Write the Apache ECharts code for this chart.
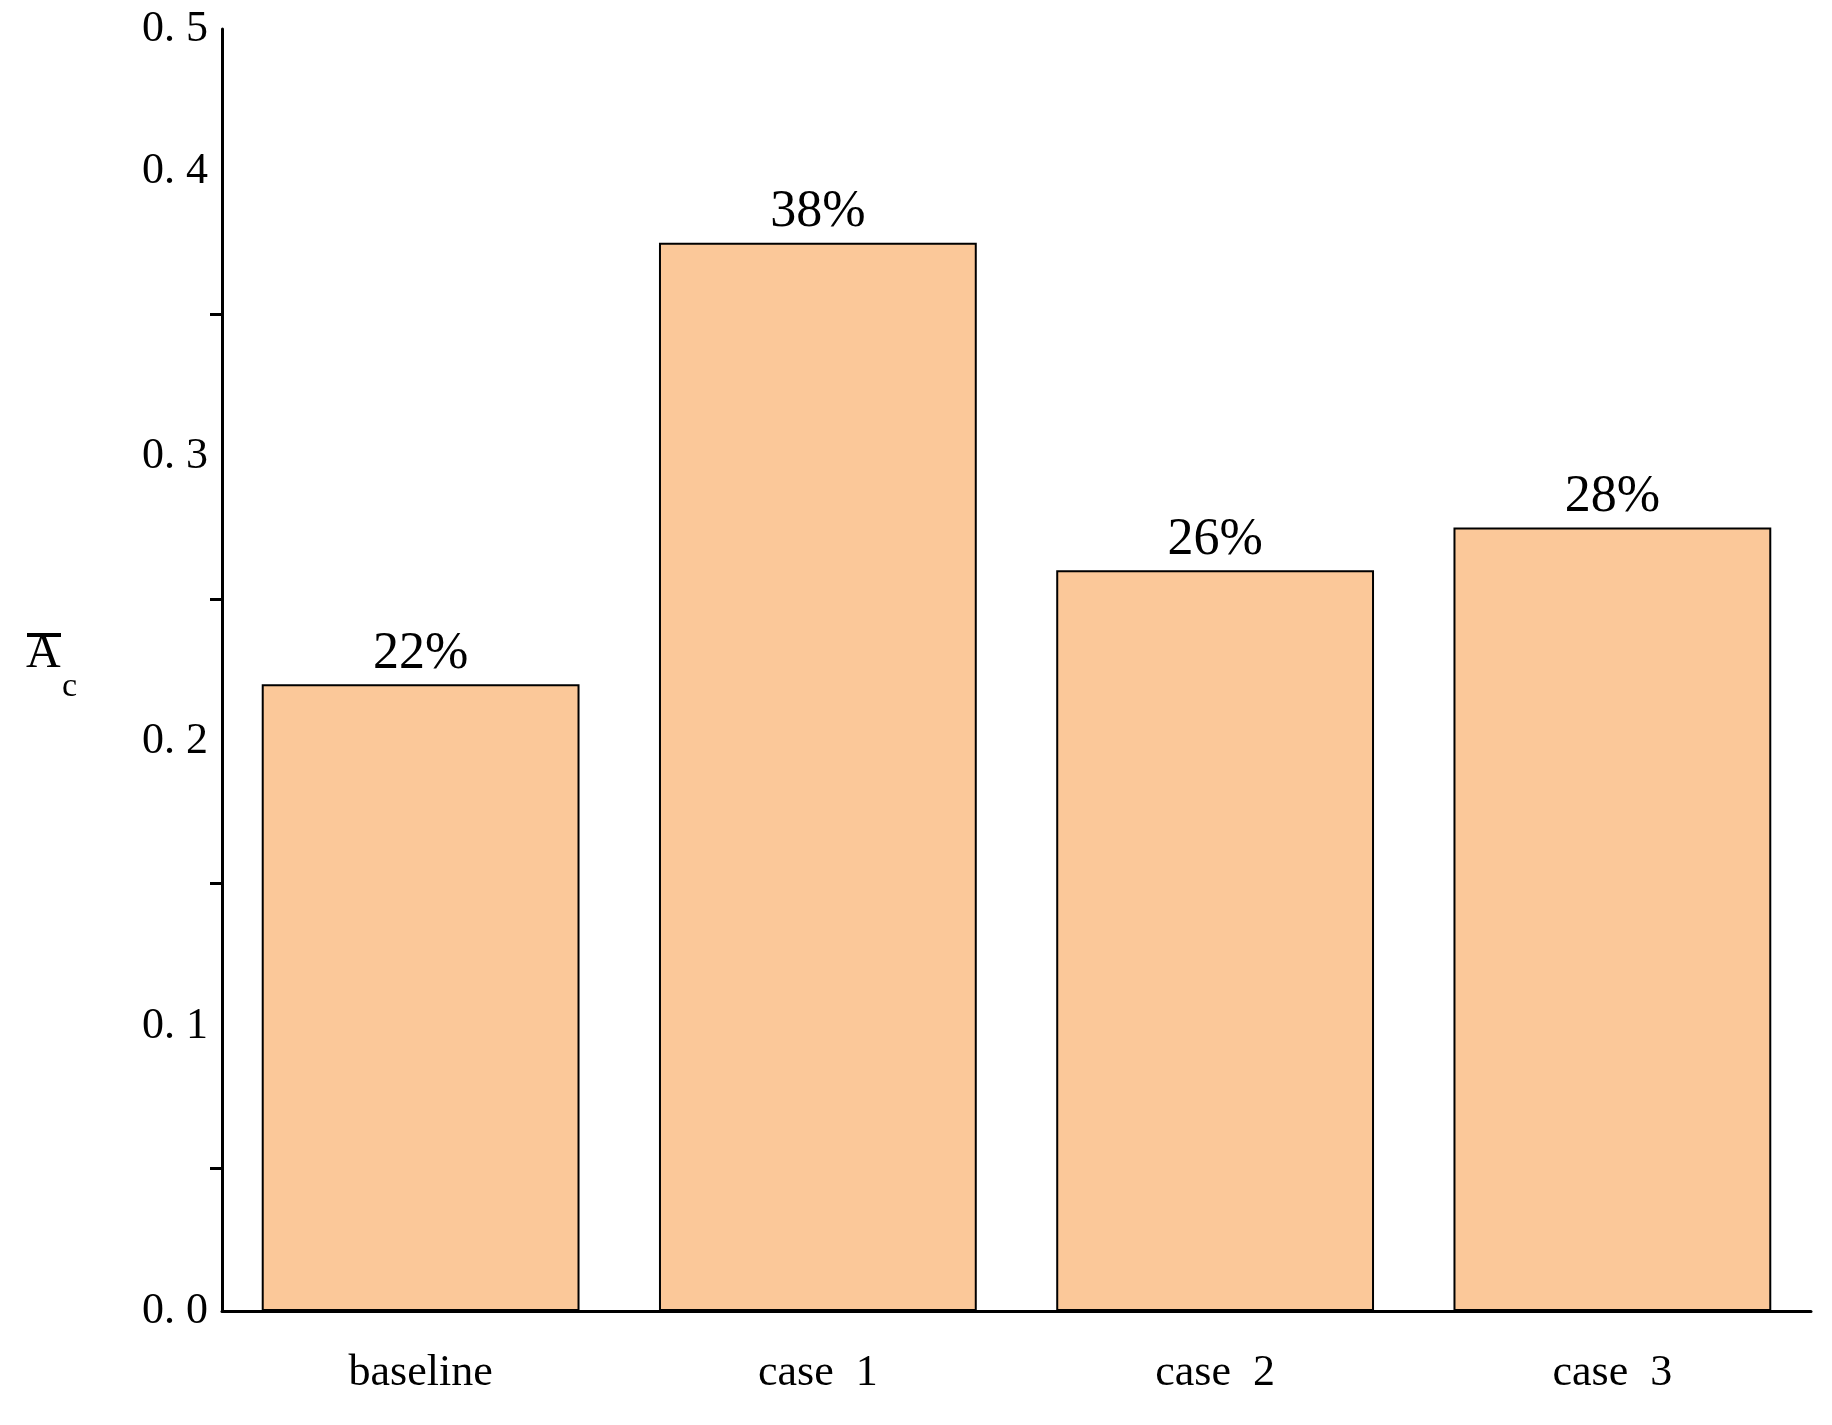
<!DOCTYPE html>
<html><head><meta charset="utf-8">
<script src="https://cdn.jsdelivr.net/npm/echarts@6/dist/echarts.min.js"></script>
<style>html,body{margin:0;background:#fff}#c{width:1832px;height:1425px}</style>
</head><body><div id="c"></div>
<script>
var categories = ['baseline', 'case 1', 'case 2', 'case 3'];
var values = [0.22, 0.375, 0.26, 0.275];
var pctLabels = ['22%', '38%', '26%', '28%'];
var font = '"Liberation Serif", "DejaVu Serif", serif';

var chart = echarts.init(document.getElementById('c'));
chart.setOption({
    animation: false,
    grid: {left: 222, right: 21, top: 29, bottom: 114},
    xAxis: [
        {type: 'category', data: categories,
         axisLine: {lineStyle: {color: '#000', width: 3}},
         axisTick: {length: 12, lineStyle: {color: '#000', width: 3}},
         axisLabel: {color: '#000', fontFamily: font, fontSize: 44, margin: 40,
                     formatter: v => v.replace(' ', '  ')}},
        {type: 'category', data: categories, position: 'bottom',
         axisLine: {show: false},
         axisTick: {alignWithLabel: true, length: 24, lineStyle: {color: '#000', width: 3}},
         axisLabel: {show: false}}
    ],
    yAxis: {
        type: 'value', min: 0, max: 0.45, interval: 0.1,
        splitLine: {show: false},
        axisLine: {show: true, lineStyle: {color: '#000', width: 3}},
        axisTick: {length: 24, lineStyle: {color: '#000', width: 3}},
        minorTick: {show: true, splitNumber: 2, length: 12, lineStyle: {color: '#000', width: 3}},
        axisLabel: {color: '#000', fontFamily: font, fontSize: 44, margin: 14,
                    formatter: v => v.toFixed(1).replace('.', '. ')}
    },
    graphic: [
        {type: 'text', left: 26, top: 630, style: {text: 'A', font: '48px ' + font, fill: '#000'}},
        {type: 'rect', left: 27, top: 633, shape: {width: 34, height: 4}, style: {fill: '#000'}},
        {type: 'text', left: 62, top: 670, style: {text: 'c', font: '34px ' + font, fill: '#000'}}
    ],
    series: [{
        type: 'bar', data: values, barWidth: '80%',
        itemStyle: {color: '#fbc899', borderColor: '#000', borderWidth: 2},
        label: {show: true, position: 'top', distance: 4, color: '#000', fontFamily: font, fontSize: 52,
                formatter: p => pctLabels[p.dataIndex]}
    }]
});
</script></body></html>
